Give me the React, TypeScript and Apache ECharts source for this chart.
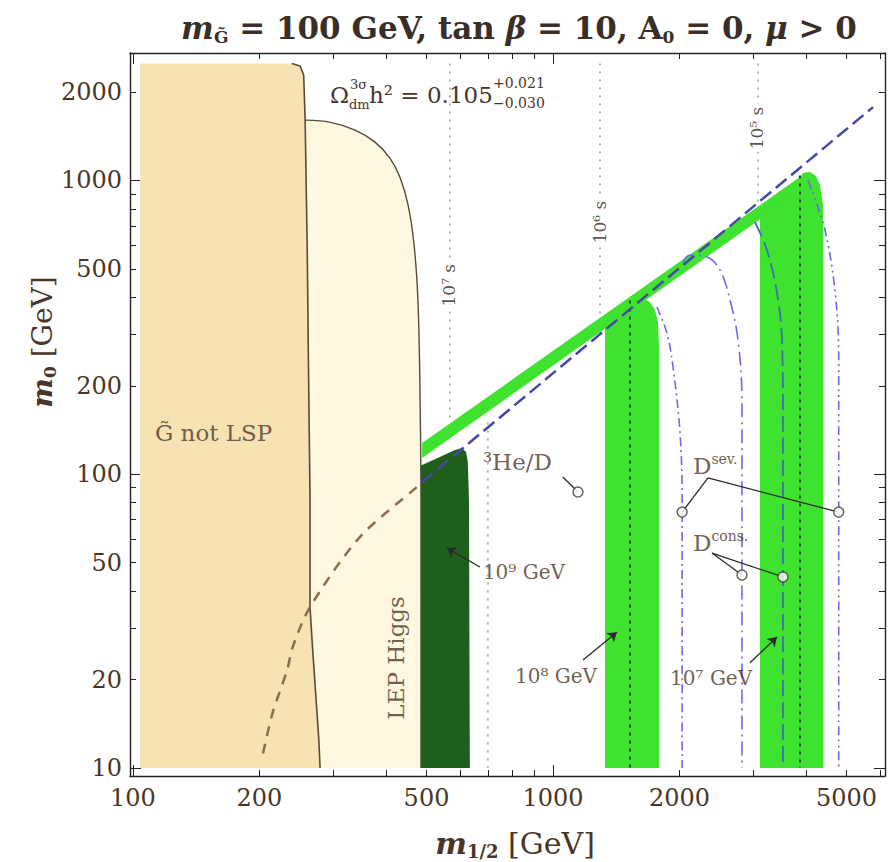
import React, { useEffect, useRef } from 'react';
import * as echarts from 'echarts';

// ---------- axes ----------
const X_MIN = 98.4;
const X_MAX = 6173;
const Y_MIN = 9.39;
const Y_MAX = 2716;
const xTickValues = [100, 200, 300, 400, 500, 600, 700, 800, 900, 1000, 2000, 3000, 4000, 5000, 6000];
const xMajorTickValues = [100, 1000];
const xLabelValues = [100, 200, 500, 1000, 2000, 5000];
const yTickValues = [10, 20, 30, 40, 50, 60, 70, 80, 90, 100, 200, 300, 400, 500, 600, 700, 800, 900, 1000, 2000];
const yMajorTickValues = [10, 100, 1000];
const yLabelValues = [10, 20, 50, 100, 200, 500, 1000, 2000];

// ---------- regions (m1/2, m0) in GeV ----------
const gravitinoNotLspRegion = [
  [104, 10], [104, 2500], [239, 2500], [250, 2452], [255, 2284], [257, 1605], [260, 580],
  [262, 209], [264, 82], [264, 35], [268, 25], [273, 17], [277, 12.5], [279, 10],
];
const gravitinoBoundary = [
  [239, 2500], [250, 2452], [255, 2284], [257, 1605], [260, 580], [262, 209], [264, 82],
  [264, 35], [268, 25], [273, 17], [277, 12.5], [279, 10],
];
const lepHiggsRegion = [
  [279, 10], [277, 12.5], [273, 17], [268, 25], [264, 35], [264, 82], [262, 209], [260, 580],
  [257, 1605], [294, 1580], [338, 1484], [377, 1351], [409, 1192], [432, 1027], [452, 824],
  [467, 603], [477, 392], [482, 209], [485, 82], [485, 10],
];
const lepHiggsBoundary = [
  [257, 1605], [294, 1580], [338, 1484], [377, 1351], [409, 1192], [432, 1027], [452, 824],
  [467, 603], [477, 392], [482, 209], [485, 82], [485, 10],
];
const band1e9GeV = [
  [485, 10], [485, 107], [538, 114.4], [584, 120.9], [607, 122.8], [621, 119], [627, 110], [631, 81.7], [634, 10],
];
const coannihilationStrip = [[488, 113.5], [488, 127.7], [4026, 1068], [4026, 957]];
const band1e8GeV = [
  [1330, 10], [1330, 318], [1405, 332], [1484, 362], [1550, 392], [1629, 398], [1702, 386],
  [1750, 362], [1778, 330], [1788, 275], [1788, 10],
];
const band1e7GeV = [
  [3111, 10], [3111, 800], [3471, 858], [3769, 965], [3937, 1060], [4092, 1068], [4229, 1035],
  [4322, 965], [4395, 824], [4395, 10],
];

// ---------- curves ----------
const stauBoundary = [[204, 11.2], [215, 15.4], [233, 21.6], [240, 25.8], [264, 35.3], [347, 61.1], [474, 90.4], [488, 94]];
const diagonalBoundary = [[488, 94], [5780, 1777]];
const dSev1e8 = [[1768, 371], [1868, 302], [1931, 232], [2007, 138], [2030, 82], [2030, 10]];
const dCons1e8 = [[2039, 528], [2120, 557], [2327, 549], [2498, 496], [2639, 392], [2758, 286], [2818, 179], [2818, 10]];
const dCons1e7 = [[3026, 722], [3232, 580], [3415, 414], [3510, 286], [3528, 153], [3528, 10]];
const dSev1e7 = [[4048, 1003], [4159, 906], [4443, 678], [4700, 414], [4790, 245], [4790, 10]];
const life1e7sUpper = [[568, 2500], [568, 150]];
const life1e7sLower = [[700, 150], [700, 10]];
const life1e6sUpper = [[1294, 2500], [1294, 340]];
const life1e6sInBand = [[1525, 390], [1525, 10]];
const life1e5sUpper = [[3077, 2500], [3077, 820]];
const life1e5sInBand = [[3873, 1040], [3873, 10]];

// ---------- markers & pointers ----------
const heDMarker = [[1147, 87]];
const dSevMarkers = [[2030, 74.3], [4790, 74.3]];
const dConsMarkers = [[2818, 45.4], [3528, 44.7]];
const heDLeader = [[1056, 97.8], [1147, 87]];
const dSevLeaders = [[[2339, 97.1], [2030, 74.3]], [[2339, 97.1], [4790, 74.3]]];
const dConsLeaders = [[[2391, 53.9], [2818, 45.4]], [[2391, 53.9], [3528, 44.7]]];
const arrow1e9 = [[670, 48.3], [559, 56.1]];
const arrow1e8 = [[1179, 23.3], [1420, 29.0]];
const arrow1e7 = [[2944, 22.8], [3415, 27.9]];

// ---------- styles ----------
const FONT = "'DejaVu Serif', 'Liberation Serif', serif";
const TEXT = '#4a3628';
const FRAME = '#222222';
const TAN = '#f6e2b3';
const CREAM = '#fdf8df';
const DARK_GREEN = '#1f5f1c';
const GREEN = '#3fe22e';
const BOUNDARY = '#5b4a3a';
const STAU = '#8b6d4e';
const DIAG = '#4747a6';
const BLUE = '#6b6bea';
const LIFE_GRAY = '#9a9a9a';
const LIFE_DARK = '#155015';

function polygonSeries(name: string, points: number[][], fill: string, z: number) {
  return {
    name,
    type: 'custom',
    coordinateSystem: 'cartesian2d',
    xAxisIndex: 0,
    yAxisIndex: 0,
    z,
    silent: true,
    clip: true,
    data: points,
    encode: { x: 0, y: 1 },
    renderItem: (params: any, api: any) => {
      if (params.dataIndex !== 0) return null;
      const pts = points.map((p) => api.coord(p));
      return { type: 'polygon', shape: { points: pts }, style: { fill, stroke: 'none' } };
    },
  };
}

function lineSeries(name: string, pts: number[][], color: string, width: number, type: any, z: number, smooth: number | boolean = false) {
  return {
    name,
    type: 'line',
    data: pts,
    showSymbol: false,
    symbol: 'none',
    smooth,
    z,
    silent: true,
    clip: true,
    lineStyle: { color, width, type },
  };
}

function linesSeries(name: string, segs: number[][][], arrow: boolean, z: number) {
  return {
    name,
    type: 'lines',
    coordinateSystem: 'cartesian2d',
    xAxisIndex: 0,
    yAxisIndex: 0,
    z,
    silent: true,
    symbol: arrow ? ['none', 'arrow'] : ['none', 'none'],
    symbolSize: arrow ? [1, 9] : [1, 1],
    lineStyle: { color: '#2a2a2a', width: 1.3, opacity: 1, curveness: 0 },
    data: segs.map((c) => ({ coords: c })),
  };
}

function textLabel(value: number[], formatter: string, opts: any = {}) {
  return {
    value,
    label: {
      show: true,
      position: 'inside',
      formatter,
      align: opts.align || 'left',
      verticalAlign: 'middle',
      rotate: opts.rotate || 0,
      fontFamily: FONT,
      fontSize: opts.fontSize || 23,
      color: opts.color || TEXT,
      backgroundColor: opts.bg || 'transparent',
      padding: opts.bg ? [2, 3] : 0,
      rich: {
        n: { fontFamily: FONT, fontSize: opts.fontSize || 23, color: TEXT, lineHeight: 28 },
        s: { fontFamily: FONT, fontSize: 14, color: TEXT, lineHeight: 14, padding: [0, 0, 14, 0], verticalAlign: 'top' },
      },
    },
  };
}

function xAxisDef(position: string, ticks: number[], len: number, showLabel: boolean, showLine: boolean) {
  return {
    type: 'log',
    logBase: 10,
    position,
    min: X_MIN,
    max: X_MAX,
    splitLine: { show: false },
    axisLine: { show: showLine, onZero: false, lineStyle: { color: FRAME, width: 1.4 } },
    axisTick: { show: true, inside: true, length: len, customValues: ticks, lineStyle: { color: FRAME, width: 1 } },
    axisLabel: {
      show: showLabel,
      customValues: xLabelValues,
      formatter: (v: number) => String(Math.round(v)),
      fontFamily: FONT,
      fontSize: 24,
      color: TEXT,
      margin: 10,
    },
  };
}

function yAxisDef(position: string, ticks: number[], len: number, showLabel: boolean, showLine: boolean) {
  return {
    type: 'log',
    logBase: 10,
    position,
    min: Y_MIN,
    max: Y_MAX,
    splitLine: { show: false },
    axisLine: { show: showLine, onZero: false, lineStyle: { color: FRAME, width: 1.4 } },
    axisTick: { show: true, inside: true, length: len, customValues: ticks, lineStyle: { color: FRAME, width: 1 } },
    axisLabel: {
      show: showLabel,
      customValues: yLabelValues,
      formatter: (v: number) => String(Math.round(v)),
      fontFamily: FONT,
      fontSize: 24,
      color: TEXT,
      margin: 8,
    },
  };
}

function buildOption() {
  const labels = [
    textLabel([112.8, 138.1], 'G̃ not LSP'),
    textLabel([422.9, 23.7], 'LEP Higgs', { rotate: 90, align: 'center' }),
    textLabel([681, 110], '³He/D'),
    textLabel([2154, 106.6], '{n|D}{s|sev.}'),
    textLabel([2154, 58.3], '{n|D}{s|cons.}'),
    textLabel([681, 46.5], '10⁹ GeV', { fontSize: 20 }),
    textLabel([812, 20.6], '10⁸ GeV', { fontSize: 20 }),
    textLabel([1900, 20.2], '10⁷ GeV', { fontSize: 20 }),
    textLabel([566, 440], '10⁷ s', { rotate: 90, align: 'center', fontSize: 17, bg: '#ffffff', color: '#2e2620' }),
    textLabel([1294, 722], '10⁶ s', { rotate: 90, align: 'center', fontSize: 17, bg: '#ffffff', color: '#2e2620' }),
    textLabel([3060, 1508], '10⁵ s', { rotate: 90, align: 'center', fontSize: 17, bg: '#ffffff', color: '#2e2620' }),
  ];

  const markerStyle = { color: '#ffffff', borderColor: '#4a3d33', borderWidth: 1.5 };
  const sm = { fontFamily: FONT, fontSize: 13, fill: TEXT, verticalAlign: 'middle' };
  const big = { fontFamily: FONT, fontSize: 23, fill: TEXT, verticalAlign: 'middle' };

  return {
    animation: false,
    backgroundColor: '#ffffff',
    grid: { left: 130, right: 3, top: 53, bottom: 86, containLabel: false },
    xAxis: [
      xAxisDef('bottom', xTickValues, 6, true, true),
      xAxisDef('top', xTickValues, 6, false, true),
      xAxisDef('bottom', xMajorTickValues, 11, false, false),
      xAxisDef('top', xMajorTickValues, 11, false, false),
    ],
    yAxis: [
      yAxisDef('left', yTickValues, 6, true, true),
      yAxisDef('right', yTickValues, 6, false, true),
      yAxisDef('left', yMajorTickValues, 11, false, false),
      yAxisDef('right', yMajorTickValues, 11, false, false),
    ],
    series: [
      polygonSeries('G not LSP', gravitinoNotLspRegion, TAN, 1),
      polygonSeries('LEP Higgs', lepHiggsRegion, CREAM, 1),
      polygonSeries('1e9 GeV', band1e9GeV, DARK_GREEN, 2),
      polygonSeries('strip', coannihilationStrip, GREEN, 2),
      polygonSeries('1e8 GeV', band1e8GeV, GREEN, 3),
      polygonSeries('1e7 GeV', band1e7GeV, GREEN, 3),
      lineSeries('G boundary', gravitinoBoundary, BOUNDARY, 1.6, 'solid', 4),
      lineSeries('LEP boundary', lepHiggsBoundary, BOUNDARY, 1.4, 'solid', 4, 0.3),
      lineSeries('life 1e7 s a', life1e7sUpper, LIFE_GRAY, 1.5, [2, 6], 4),
      lineSeries('life 1e7 s b', life1e7sLower, LIFE_GRAY, 1.5, [2, 6], 4),
      lineSeries('life 1e6 s a', life1e6sUpper, LIFE_GRAY, 1.5, [2, 6], 4),
      lineSeries('life 1e6 s b', life1e6sInBand, LIFE_DARK, 2, [3, 5], 4),
      lineSeries('life 1e5 s a', life1e5sUpper, LIFE_GRAY, 1.5, [2, 6], 4),
      lineSeries('life 1e5 s b', life1e5sInBand, LIFE_DARK, 2, [3, 5], 4),
      lineSeries('stau', stauBoundary, STAU, 2.5, [10, 8], 5, 0.3),
      lineSeries('diagonal', diagonalBoundary, DIAG, 2.5, [14, 6], 5),
      lineSeries('Dsev 1e8', dSev1e8, BLUE, 1.6, [9, 4, 2, 4], 5, 0.35),
      lineSeries('Dcons 1e8', dCons1e8, BLUE, 1.6, [14, 5, 2, 5], 5, 0.35),
      lineSeries('Dcons 1e7', dCons1e7, '#3c6fb0', 1.8, [16, 6], 5, 0.35),
      lineSeries('Dsev 1e7', dSev1e7, BLUE, 1.6, [9, 4, 2, 4, 2, 4], 5, 0.35),
      linesSeries('leaders', [heDLeader, ...dSevLeaders, ...dConsLeaders], false, 7),
      linesSeries('arrows', [arrow1e9, arrow1e8, arrow1e7], true, 7),
      {
        name: 'markers',
        type: 'scatter',
        z: 8,
        silent: true,
        symbol: 'circle',
        symbolSize: 10,
        itemStyle: markerStyle,
        data: [...heDMarker, ...dSevMarkers, ...dConsMarkers],
      },
      {
        name: 'labels',
        type: 'scatter',
        z: 9,
        silent: true,
        symbolSize: 1,
        itemStyle: { color: 'rgba(0,0,0,0)' },
        data: labels,
      },
    ],
    graphic: [
      {
        type: 'text',
        x: 519,
        y: 28,
        style: {
          text: '{i|m}{b|G̃}{r| = 100 GeV, tan }{i|β}{r| = 10, A}{b|0}{r| = 0, }{i|μ}{r| > 0}',
          align: 'center',
          verticalAlign: 'middle',
          fill: '#3a2f28',
          rich: {
            i: { fontFamily: FONT, fontSize: 31, fontStyle: 'italic', fontWeight: 'bold', fill: '#3a2f28', lineHeight: 34 },
            r: { fontFamily: FONT, fontSize: 31, fontWeight: 'bold', fill: '#3a2f28', lineHeight: 34 },
            b: { fontFamily: FONT, fontSize: 17, fontWeight: 'bold', fill: '#3a2f28', lineHeight: 17, padding: [22, 0, 0, 0], verticalAlign: 'bottom' },
          },
        },
      },
      {
        type: 'text',
        x: 515,
        y: 843,
        style: {
          text: '{i|m}{b|1/2}{r| [GeV]}',
          align: 'center',
          verticalAlign: 'middle',
          fill: TEXT,
          rich: {
            i: { fontFamily: FONT, fontSize: 30, fontStyle: 'italic', fontWeight: 'bold', fill: TEXT, lineHeight: 34 },
            r: { fontFamily: FONT, fontSize: 30, fill: TEXT, lineHeight: 34 },
            b: { fontFamily: FONT, fontSize: 18, fontWeight: 'bold', fill: TEXT, lineHeight: 18, padding: [21, 0, 0, 0], verticalAlign: 'bottom' },
          },
        },
      },
      {
        type: 'text',
        x: 42,
        y: 342,
        rotation: Math.PI / 2,
        style: {
          text: '{i|m}{b|0}{r| [GeV]}',
          align: 'center',
          verticalAlign: 'middle',
          fill: TEXT,
          rich: {
            i: { fontFamily: FONT, fontSize: 28, fontStyle: 'italic', fontWeight: 'bold', fill: TEXT, lineHeight: 32 },
            r: { fontFamily: FONT, fontSize: 28, fill: TEXT, lineHeight: 32 },
            b: { fontFamily: FONT, fontSize: 17, fontWeight: 'bold', fill: TEXT, lineHeight: 17, padding: [20, 0, 0, 0], verticalAlign: 'bottom' },
          },
        },
      },
      { type: 'text', x: 330, y: 95, z: 20, style: { ...big, text: 'Ω' } },
      { type: 'text', x: 350, y: 84, z: 20, style: { ...sm, text: '3σ' } },
      { type: 'text', x: 349, y: 104, z: 20, style: { ...sm, text: 'dm' } },
      { type: 'text', x: 369, y: 95, z: 20, style: { ...big, text: 'h² = 0.105' } },
      { type: 'text', x: 493, y: 83, z: 20, style: { ...sm, fontSize: 14, text: '+0.021' } },
      { type: 'text', x: 493, y: 103, z: 20, style: { ...sm, fontSize: 14, text: '−0.030' } },
    ],
  };
}

export default function App() {
  const ref = useRef<HTMLDivElement>(null);
  useEffect(() => {
    if (!ref.current) return;
    const chart = echarts.init(ref.current, null, { renderer: 'svg', width: 888, height: 862 });
    chart.setOption(buildOption() as any);
    return () => chart.dispose();
  }, []);
  return (
    <div
      ref={ref}
      style={{ position: 'fixed', left: 0, top: 0, width: 888, height: 862, background: '#ffffff' }}
    />
  );
}
